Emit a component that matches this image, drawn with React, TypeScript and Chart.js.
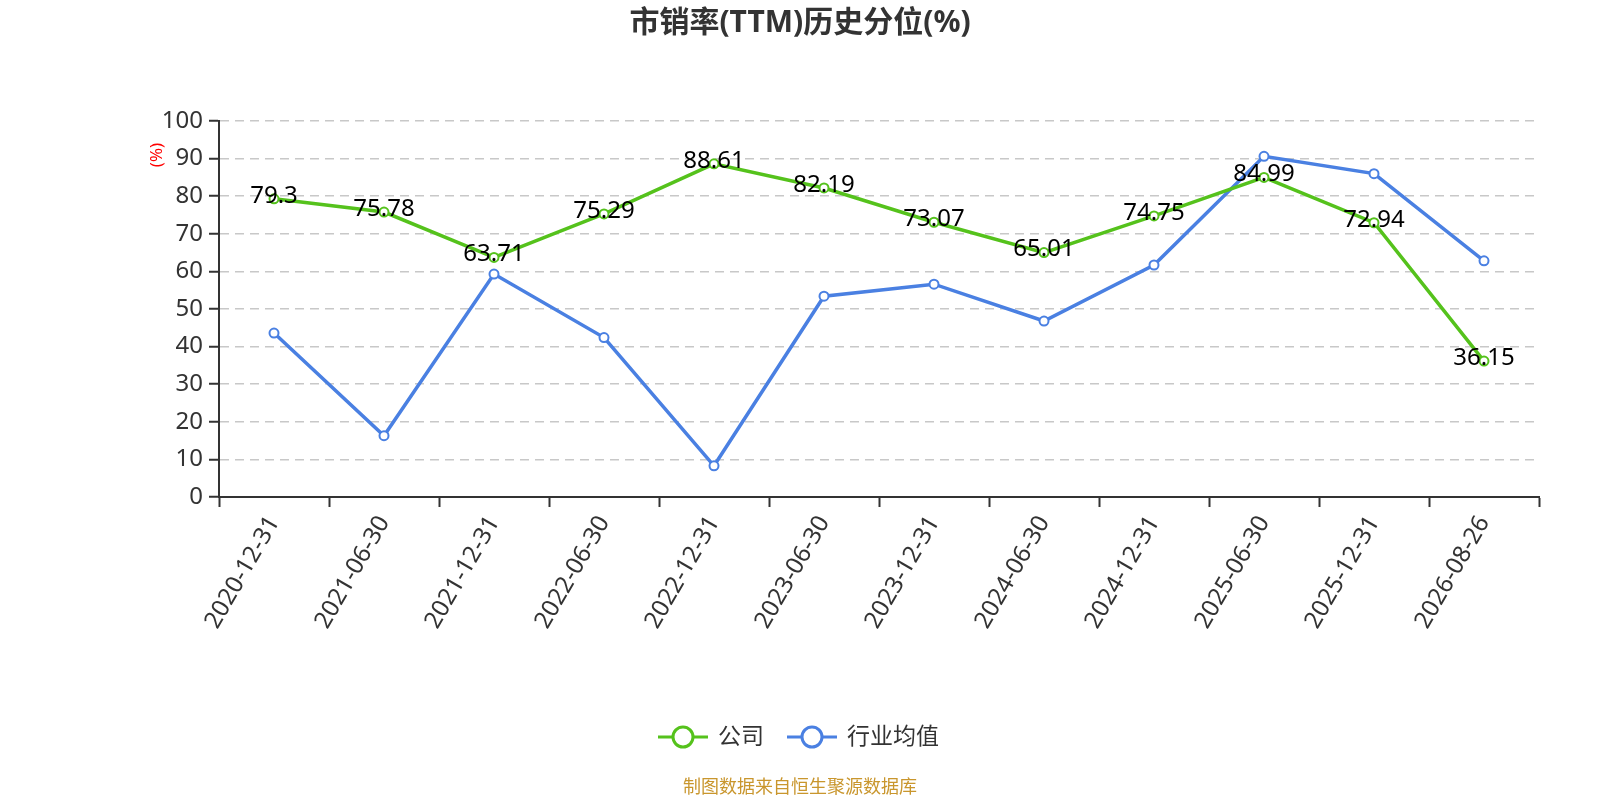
import React, { useEffect, useRef } from "react";
import { Chart, registerables } from "chart.js";

Chart.register(...registerables);

const categories = [
  "2020-12-31", "2021-06-30", "2021-12-31", "2022-06-30", "2022-12-31", "2023-06-30",
  "2023-12-31", "2024-06-30", "2024-12-31", "2025-06-30", "2025-12-31", "2026-08-26",
];
const companyValues = [79.3, 75.78, 63.71, 75.29, 88.61, 82.19, 73.07, 65.01, 74.75, 84.99, 72.94, 36.15];
const industryValues = [43.6, 16.3, 59.3, 42.4, 8.3, 53.4, 56.6, 46.8, 61.7, 90.6, 86.0, 62.8];
const seriesNames = ["公司", "行业均值"];
const titleText = "市销率(TTM)历史分位(%)";
const unitText = "(%)";
const footerText = "制图数据来自恒生聚源数据库";

const GREEN = "#55c21c";
const BLUE = "#4a80e2";
const FONT = '"Noto Sans", "Noto Sans CJK SC", sans-serif';

const overlayPlugin = {
  id: "overlay",
  afterDatasetsDraw(chart: any) {
    const ctx = chart.ctx;
    ctx.save();
    const meta = chart.getDatasetMeta(0);
    ctx.font = `24px ${FONT}`;
    ctx.fillStyle = "#000";
    ctx.textAlign = "center";
    ctx.textBaseline = "middle";
    meta.data.forEach((pt: any, i: number) => {
      ctx.fillText(String(companyValues[i]), pt.x, pt.y - 3);
    });
    ctx.restore();
  },
  afterDraw(chart: any) {
    const ctx = chart.ctx;
    ctx.save();
    ctx.font = `bold 30px ${FONT}`;
    ctx.fillStyle = "#333";
    ctx.textAlign = "center";
    ctx.textBaseline = "middle";
    ctx.fillText(titleText, 800, 23);

    ctx.save();
    ctx.translate(157, 155);
    ctx.rotate(-Math.PI / 2);
    ctx.font = `17px ${FONT}`;
    ctx.fillStyle = "#ff0000";
    ctx.fillText(unitText, 0, 0);
    ctx.restore();

    const items = [
      { name: seriesNames[0], color: GREEN, x: 658 },
      { name: seriesNames[1], color: BLUE, x: 787 },
    ];
    const ly = 737;
    items.forEach((it) => {
      ctx.strokeStyle = it.color;
      ctx.lineWidth = 3;
      ctx.beginPath();
      ctx.moveTo(it.x, ly);
      ctx.lineTo(it.x + 50, ly);
      ctx.stroke();
      ctx.beginPath();
      ctx.arc(it.x + 25, ly, 10, 0, Math.PI * 2);
      ctx.fillStyle = "#fff";
      ctx.fill();
      ctx.stroke();
      ctx.font = `23px ${FONT}`;
      ctx.fillStyle = "#333";
      ctx.textAlign = "left";
      ctx.textBaseline = "middle";
      ctx.fillText(it.name, it.x + 60, ly);
    });

    ctx.font = `18px ${FONT}`;
    ctx.fillStyle = "#c9962d";
    ctx.textAlign = "center";
    ctx.textBaseline = "middle";
    ctx.fillText(footerText, 800, 788);
    ctx.restore();
  },
};

export default function App() {
  const ref = useRef<HTMLCanvasElement>(null);
  useEffect(() => {
    document.body.style.margin = "0";
    if (!ref.current) return;
    const chart = new Chart(ref.current, {
      type: "line",
      data: {
        labels: categories,
        datasets: [
          {
            label: seriesNames[0],
            data: companyValues,
            borderColor: GREEN,
            backgroundColor: "#fff",
            borderWidth: 3.5,
            pointRadius: 4.5,
            pointBorderWidth: 2,
            pointBackgroundColor: "#fff",
            pointBorderColor: GREEN,
            tension: 0,
          },
          {
            label: seriesNames[1],
            data: industryValues,
            borderColor: BLUE,
            backgroundColor: "#fff",
            borderWidth: 3.5,
            pointRadius: 4.5,
            pointBorderWidth: 2,
            pointBackgroundColor: "#fff",
            pointBorderColor: BLUE,
            tension: 0,
          },
        ],
      },
      options: {
        responsive: false,
        animation: false,
        devicePixelRatio: 1,
        layout: { padding: { top: 121, right: 61, left: 0, bottom: 0 } },
        plugins: {
          legend: { display: false },
          title: { display: false },
          tooltip: { enabled: false },
        },
        scales: {
          x: {
            type: "category",
            offset: true,
            grid: {
              offset: true,
              drawOnChartArea: false,
              drawTicks: true,
              tickLength: 10,
              tickColor: "#333",
              tickWidth: 2,
            },
            border: { display: true, color: "#333", width: 2 },
            ticks: {
              autoSkip: false,
              maxRotation: 60,
              minRotation: 60,
              padding: 4,
              color: "#333",
              font: { size: 24, family: FONT },
            },
            afterFit(scale: any) {
              scale.height = 303;
            },
          },
          y: {
            min: 0,
            max: 100,
            ticks: {
              stepSize: 10,
              color: "#333",
              padding: 6,
              font: { size: 24, family: FONT },
            },
            grid: {
              color: "#c8c8c8",
              lineWidth: 1.5,
              tickColor: "#333",
              tickWidth: 2,
              tickLength: 10,
              drawTicks: true,
            },
            border: { display: true, color: "#333", width: 2, dash: [9, 6] },
            afterFit(scale: any) {
              scale.width = 219;
            },
          },
        },
      },
      plugins: [overlayPlugin],
    });
    return () => chart.destroy();
  }, []);
  return (
    <div style={{ position: "fixed", left: 0, top: 0, width: 1600, height: 800, background: "#fff" }}>
      <canvas ref={ref} width={1600} height={800} style={{ width: 1600, height: 800 }} />
    </div>
  );
}
